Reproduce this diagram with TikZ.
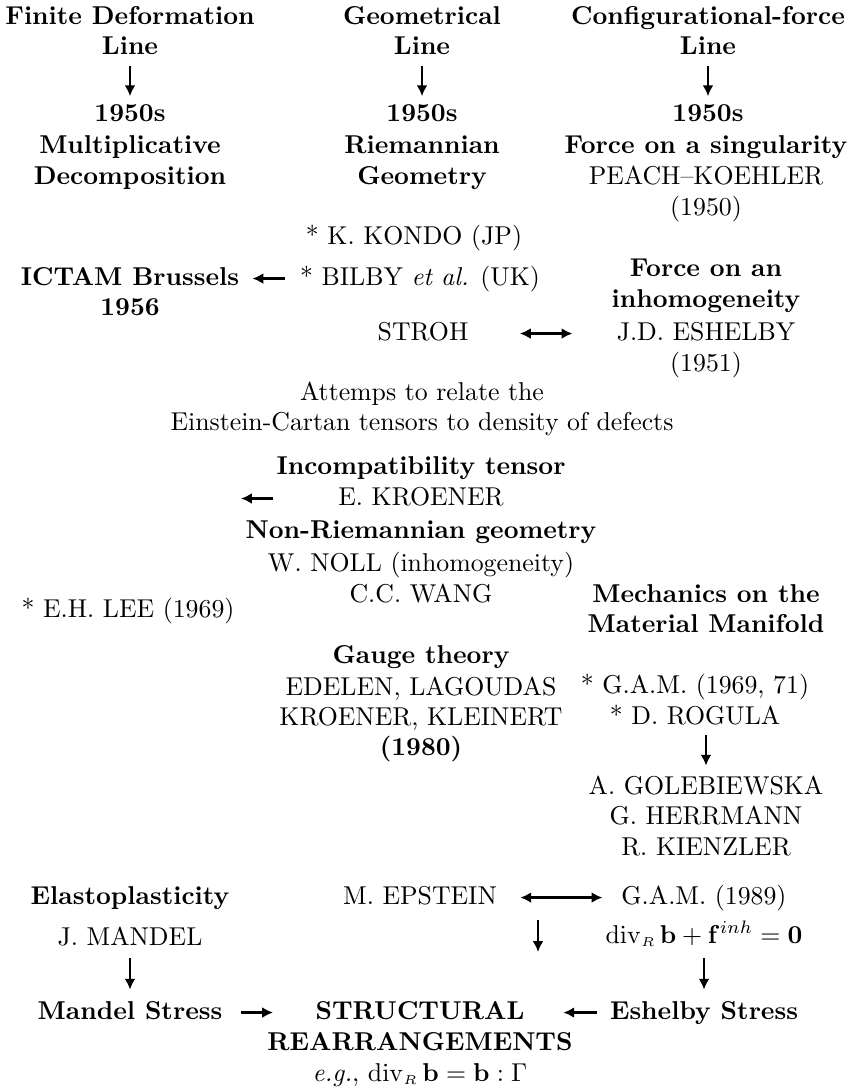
\documentclass[tikz,border=0pt]{standalone}
\usetikzlibrary{arrows.meta}
\begin{document}
\begin{tikzpicture}[x=0.3876pt,y=-0.3876pt,
  t/.style={anchor=base, inner sep=0pt, text height=7.5pt, text depth=2.5pt},
  b/.style={t, font=\bfseries},
  arr/.style={line width=1.1pt, -{Latex[length=4.2pt,width=4.2pt]}},
  darr/.style={line width=1.1pt, {Latex[length=4.2pt,width=4.2pt]}-{Latex[length=4.2pt,width=4.2pt]}},
  topar/.style={arr, shorten <=1.4pt, shorten >=2.3pt}]
\useasboundingbox (0,0) rectangle (849,1092);

% column 1
\node[b] (fd1) at (130,25) {Finite Deformation};
\node[b] (fd2) at (130,55) {Line};
\node[b] (fd3) at (130,122) {1950s};
\node[b] (fd4) at (130,154) {Multiplicative};
\node[b] (fd5) at (130,185) {Decomposition};
\node[b] (ictam) at (130,285) {ICTAM Brussels};
\node[b] (ictamy) at (130,315) {1956};
\node[t] (lee) at (128,617) {* E.H. LEE (1969)};
\node[b] (elasto) at (130,904) {Elastoplasticity};
\node[t] (mandel) at (130,945) {J. MANDEL};
\node[b] (mstress) at (130,1019) {Mandel Stress};

% column 2
\node[b] (g1) at (422,25) {Geometrical};
\node[b] (g2) at (422,55) {Line};
\node[b] (g3) at (422,122) {1950s};
\node[b] (g4) at (422,154) {Riemannian};
\node[b] (g5) at (422,185) {Geometry};
\node[t] (kondo) at (414,245) {* K. KONDO (JP)};
\node[t] (bilby) at (420,285) {* BILBY \textit{et al.} (UK)};
\node[t] (stroh) at (423,340) {STROH};
\node[t] (att1) at (422,400) {Attemps to relate the};
\node[t] (att2) at (422,430) {Einstein-Cartan tensors to density of defects};
\node[b] (inc) at (421,474) {Incompatibility tensor};
\node[t] (kroener) at (421,505) {E. KROENER};
\node[b] (nonr) at (421,538) {Non-Riemannian geometry};
\node[t] (noll) at (421,571) {W. NOLL (inhomogeneity)};
\node[t] (wang) at (421,602) {C.C. WANG};
\node[b] (gauge) at (421,663) {Gauge theory};
\node[t] (edelen) at (421,695) {EDELEN, LAGOUDAS};
\node[t] (kk) at (421,725) {KROENER, KLEINERT};
\node[b] (y1980) at (421,755) {(1980)};
\node[t] (epstein) at (420,904) {M. EPSTEIN};
\node[b] (struct1) at (420,1019) {STRUCTURAL};
\node[b] (struct2) at (420,1050) {REARRANGEMENTS};
\node[t] (eg) at (420,1081) {\textit{e.g.}, $\mathrm{div}_{\scriptscriptstyle R}\,\mathbf{b}=\mathbf{b}:\Gamma$};

% column 3
\node[b] (c1) at (708,25) {Configurational-force};
\node[b] (c2) at (708,55) {Line};
\node[b] (c3) at (708,122) {1950s};
\node[b] (c4) at (706,154) {Force on a singularity};
\node[t] (c5) at (706,185) {PEACH--KOEHLER};
\node[t] (c6) at (706,216) {(1950)};
\node[b] (fi1) at (706,277) {Force on an};
\node[b] (fi2) at (706,308) {inhomogeneity};
\node[t] (esh) at (706,340) {J.D. ESHELBY};
\node[t] (y1951) at (706,371) {(1951)};
\node[b] (mech1) at (706,602) {Mechanics on the};
\node[b] (mech2) at (706,632) {Material Manifold};
\node[t] (gam) at (695,693) {* G.A.M. (1969, 71)};
\node[t] (rogula) at (695,724) {* D. ROGULA};
\node[t] (gole) at (706,794) {A. GOLEBIEWSKA};
\node[t] (herr) at (706,824) {G. HERRMANN};
\node[t] (kien) at (706,855) {R. KIENZLER};
\node[t] (gam89) at (704,904) {G.A.M. (1989)};
\node[t] (divf) at (704,943) {$\mathrm{div}_{\scriptscriptstyle R}\,\mathbf{b}+\mathbf{f}^{inh}=\mathbf{0}$};
\node[b] (eshs) at (704,1019) {Eshelby Stress};

\coordinate (ktip) at (241,498.5);
\coordinate (ed1) at (538,920);
\coordinate (ed2) at (538,952);

% connectors
\draw[topar] (fd2.south) -- (fd3.north);
\draw[topar] (g2.south) -- (g3.north);
\draw[topar] (c2.south) -- (c3.north);
\draw[arr, shorten <=5.8pt, shorten >=5pt] (bilby.west) -- (ictam.east);
\draw[darr, shorten <=19.8pt, shorten >=17pt] (stroh.east) -- (esh.west);
\draw[arr, shorten <=25.2pt] (kroener.west) -- (ktip);
\draw[arr, shorten <=1.7pt, shorten >=3.3pt] (rogula.south -| gole.north) -- (gole.north);
\draw[darr, shorten <=8.9pt, shorten >=7.2pt] (epstein.east) -- (gam89.west);
\draw[arr] (ed1) -- (ed2);
\draw[arr, shorten <=2.5pt, shorten >=3.7pt] (mandel.south) -- (mstress.north);
\draw[arr, shorten <=3.3pt, shorten >=3.7pt] (divf.south) -- (eshs.north);
\draw[arr, shorten <=7pt, shorten >=16.3pt] (mstress.east) -- (struct1.west);
\draw[arr, shorten <=4.8pt, shorten >=14.9pt] (eshs.west) -- (struct1.east);
\end{tikzpicture}
\end{document}
